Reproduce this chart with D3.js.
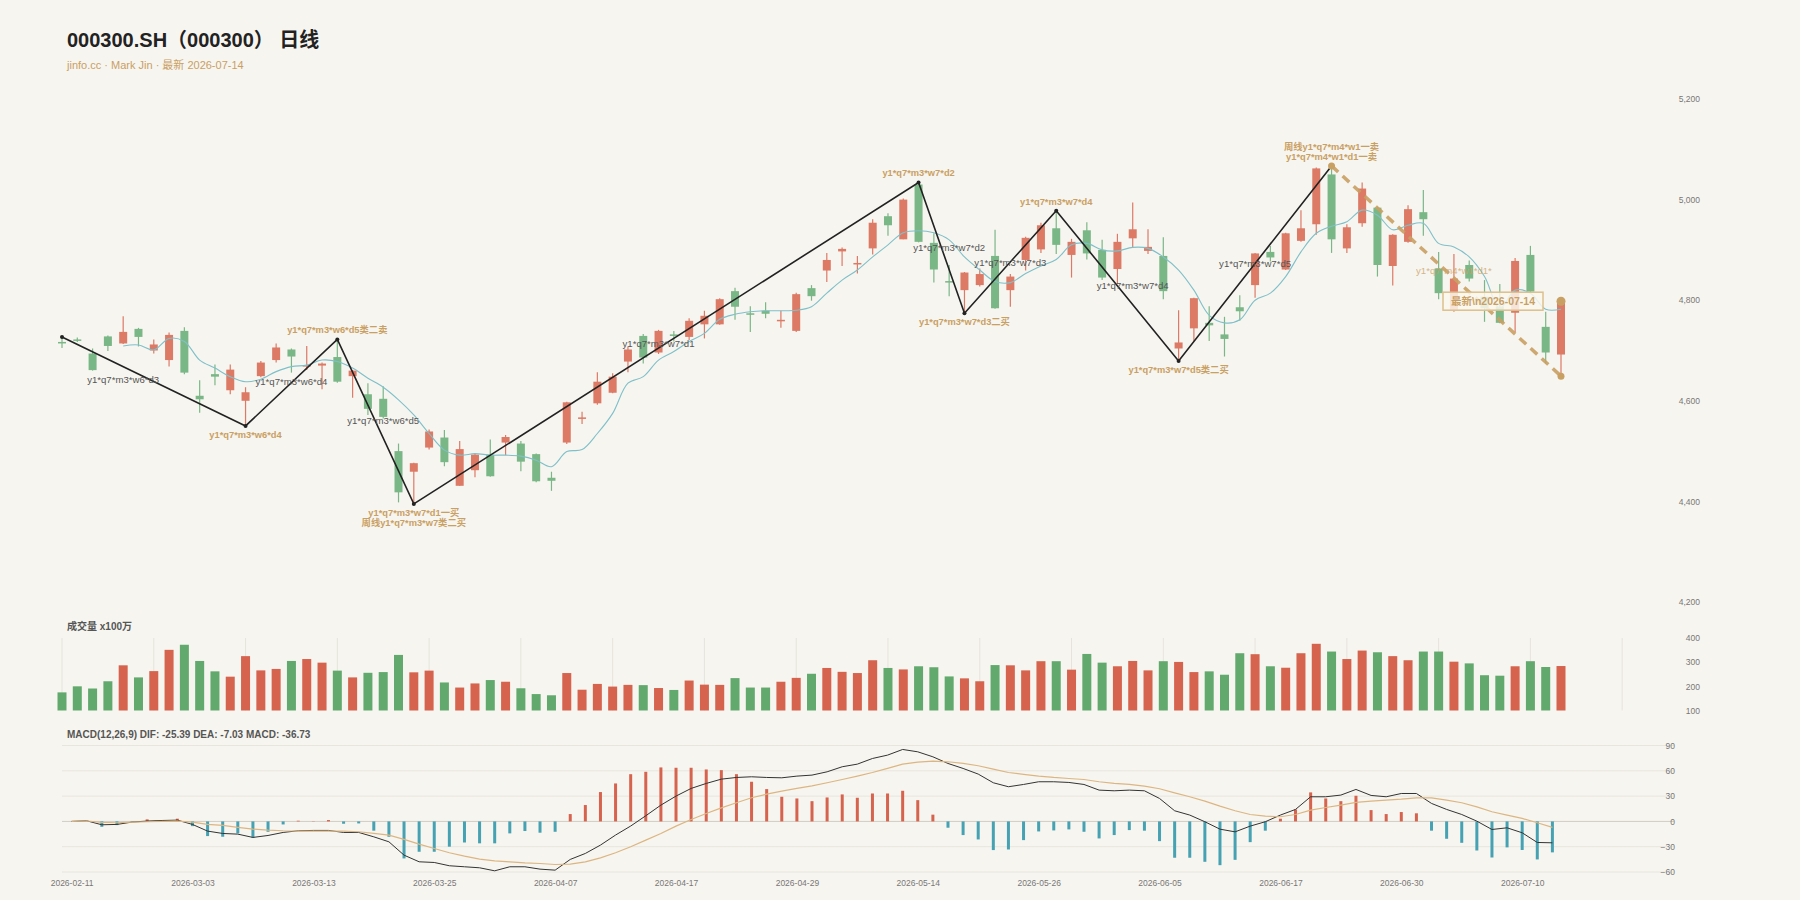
<!DOCTYPE html>
<html>
<head>
  <meta charset="utf-8">
  <title>000300.SH 日线</title>
  <script src="https://d3js.org/d3.v7.min.js"></script>
  <style>
    html, body { margin: 0; padding: 0; background: #f7f5f0; }
    svg { display: block; font-family: "Liberation Sans", Arial, "Noto Sans CJK SC", sans-serif; }
  </style>
</head>
<body>
  <svg id="chart" width="1800" height="900"></svg>

  <script>
    // trading days (2026)
    var days = ["02-11","02-12","02-13","02-24","02-25","02-26","02-27","03-02","03-03","03-04",
      "03-05","03-06","03-09","03-10","03-11","03-12","03-13","03-16","03-17","03-18",
      "03-19","03-20","03-23","03-24","03-25","03-26","03-27","03-30","03-31","04-01",
      "04-02","04-03","04-07","04-08","04-09","04-10","04-13","04-14","04-15","04-16",
      "04-17","04-20","04-21","04-22","04-23","04-24","04-27","04-28","04-29","04-30",
      "05-06","05-07","05-08","05-11","05-12","05-13","05-14","05-15","05-18","05-19",
      "05-20","05-21","05-22","05-25","05-26","05-27","05-28","05-29","06-01","06-02",
      "06-03","06-04","06-05","06-08","06-09","06-10","06-11","06-12","06-15","06-16",
      "06-17","06-18","06-22","06-23","06-24","06-25","06-26","06-29","06-30","07-01",
      "07-02","07-03","07-06","07-07","07-08","07-09","07-10","07-13","07-14"];
    var dates = days.map(function(d) { return "2026-" + d; });

    var open = [4717,4722,4694,4728,4714,4743,4700,4681,4739,4610,
      4653,4621,4600,4649,4681,4702,4668,4670,4687,4649,
      4613,4604,4500,4459,4507,4527,4431,4462,4493,4517,
      4515,4494,4447,4517,4564,4595,4616,4678,4729,4696,
      4732,4727,4752,4752,4818,4774,4779,4758,4739,4824,
      4859,4897,4872,4903,4967,4921,5030,4914,4838,4820,
      4830,4888,4820,4880,4901,4943,4890,4939,4900,4862,
      4923,4898,4888,4704,4744,4755,4732,4786,4830,4896,
      4861,4918,4951,5050,4903,4953,4984,4868,4916,4975,
      4863,4780,4870,4807,4787,4775,4890,4747,4692];
    var close = [4714,4720,4661,4709,4737,4727,4712,4731,4656,4603,
      4648,4662,4617,4676,4706,4688,4671,4674,4638,4660,
      4584,4568,4418,4476,4539,4478,4504,4493,4450,4528,
      4479,4440,4441,4597,4567,4638,4648,4702,4686,4739,
      4729,4759,4769,4802,4787,4771,4773,4761,4812,4808,
      4880,4902,4874,4954,4949,5000,4916,4861,4835,4855,
      4852,4784,4847,4924,4949,4910,4916,4893,4845,4916,
      4941,4906,4818,4716,4804,4750,4723,4778,4893,4885,
      4933,4943,5062,4921,4945,5022,4870,4930,4981,4961,
      4814,4843,4843,4784,4755,4878,4817,4696,4798];
    var high = [4727,4726,4704,4730,4768,4745,4722,4736,4746,4641,
      4672,4672,4627,4679,4714,4704,4709,4676,4722,4661,
      4635,4629,4515,4477,4543,4542,4520,4495,4523,4532,
      4520,4495,4459,4598,4578,4657,4655,4708,4733,4741,
      4739,4764,4779,4804,4825,4788,4796,4779,4815,4830,
      4894,4905,4888,4961,4973,5002,5034,4933,4870,4856,
      4863,4940,4852,4926,4954,4978,4922,4955,4920,4932,
      4994,4941,4925,4780,4805,4788,4767,4810,4894,4908,
      4934,4979,5064,5067,4951,5034,4985,4931,4989,5019,
      4896,4892,4879,4840,4832,4884,4908,4777,4798];
    var low = [4705,4717,4660,4699,4713,4708,4694,4668,4653,4576,
      4631,4613,4550,4647,4676,4656,4661,4623,4636,4606,
      4572,4565,4398,4395,4503,4470,4431,4448,4449,4492,
      4460,4438,4421,4514,4554,4592,4615,4657,4674,4693,
      4718,4721,4724,4751,4761,4737,4764,4745,4737,4799,
      4836,4868,4853,4891,4928,4921,4915,4835,4808,4774,
      4827,4783,4787,4859,4894,4892,4845,4881,4840,4833,
      4906,4892,4802,4679,4719,4719,4688,4759,4805,4877,
      4860,4916,4930,4894,4894,4946,4847,4829,4914,4928,
      4802,4777,4837,4757,4754,4737,4816,4674,4649];

    // moving average line (starts at 5th bar)
    var ma = [null,null,null,null,4709,4711,4701,4724,4718,4681,
      4665,4648,4638,4643,4658,4668,4671,4681,4678,4665,
      4645,4627,4602,4572,4535,4502,4492,4495,4492,4492,
      4490,4482,4469,4499,4503,4535,4575,4635,4648,4681,
      4698,4718,4734,4762,4772,4777,4779,4779,4780,4787,
      4814,4840,4860,4886,4910,4934,4938,4934,4920,4886,
      4860,4837,4835,4853,4868,4881,4910,4913,4900,4898,
      4905,4903,4886,4860,4820,4770,4755,4761,4800,4814,
      4847,4896,4933,4947,4956,4979,4969,4940,4949,4953,
      4913,4906,4886,4847,4784,4820,4814,4782,4782];

    // volume, x100万
    var volume = [175,200,191,221,287,237,263,351,372,305,
      262,240,325,266,272,305,313,298,265,237,
      256,259,330,258,265,216,195,212,226,219,
      192,168,163,255,186,210,199,206,205,193,
      185,224,207,206,234,195,195,219,235,252,
      276,260,255,308,276,270,283,279,241,233,
      221,288,287,266,304,304,269,334,298,283,
      305,266,304,301,259,262,248,337,333,283,
      277,337,376,344,313,348,341,325,308,344,
      344,302,295,246,244,283,304,280,284];

    // MACD(12,26,9)
    var dif = [0,0.7,-4,-3.6,-0.8,0.4,1.1,1.5,-3.6,-11.5,
      -14.3,-15.1,-19,-16.7,-13.1,-11.1,-10.7,-10.7,-13.1,-13.1,
      -18.3,-24.2,-40,-47.9,-48.7,-52.6,-53.8,-55,-58.6,-53.8,
      -53.8,-56.6,-57.8,-45.1,-38,-28.1,-16.2,-5.5,6.7,19.3,
      30,39.1,45,50.1,52.1,52.9,52.1,51.7,53.7,54.9,
      58.8,64.8,67.9,74.6,78.6,85.3,82.5,76.6,68.7,62.8,
      56.1,45.8,41.1,43.8,47,47,46.2,43.8,37.1,36.3,
      37.1,36.3,27.2,12.6,7.5,-0.4,-9.2,-12.4,-5.6,-0.4,
      7.5,14.2,29.2,29.2,31.2,37.9,30.8,29.2,33.1,33.1,
      21.3,14.2,8.2,0.3,-9.6,-7.6,-13.5,-25,-25.39];
    var dea = [0,0.5,-1.2,-1.6,-0.8,-0.4,0,0.4,-0.8,-3.6,
      -4.8,-7.1,-9.1,-10.3,-11.1,-11.5,-11.5,-11.5,-11.5,-12.3,
      -14.3,-16.3,-21.4,-27,-32.1,-37.2,-41.2,-44.7,-46.7,-47.9,
      -49.1,-49.9,-51.1,-50.7,-47.9,-43.2,-37.2,-30.1,-22.2,-14.3,
      -5.6,2.3,9.4,16.1,22.1,28,32.3,35.9,39.1,42.2,
      45.8,49.7,53.7,58,62.8,67.9,70.3,71.5,70.7,68.7,
      66,62,58,55.7,53.7,52.1,50.9,49.7,47,45,
      43.8,41.8,38.7,33.9,29.2,24.1,18.1,12.6,8.2,6.3,
      5.5,8.2,13.4,16.5,19.3,22.5,24.1,25.2,26.4,28,
      28,25.2,22.1,17.3,11.4,7.5,3.5,-1.6,-7.03];
    var hist = [0,0,-6.4,-4.4,-0.5,2.4,1.6,3.2,-5.6,-17.4,
      -18.2,-14.2,-19.4,-12.3,-3.6,0.8,0.3,1.6,-2.8,-2.4,
      -11,-18.2,-43.9,-36,-36,-30,-25,-26,-26,-14.2,
      -11.4,-13.4,-12.3,8.7,19.4,34.8,45,56,58.8,64,
      63.6,63.6,61.6,60.8,56,47,38.3,29.2,27.2,24,
      28.4,32,28,33.1,33.1,36.3,25.2,8,-7.5,-16.2,
      -21.4,-34,-33.3,-22.2,-11.9,-10.7,-9.5,-12.3,-20.2,-16.2,
      -10.3,-11,-23.4,-43.1,-43.1,-47.9,-51.9,-45.6,-24.6,-11,
      3.2,14.2,34.4,27.2,24,30.4,13.4,8.7,11.1,9.6,
      -11,-20.6,-25.4,-34.5,-42.8,-30.8,-33.9,-45.1,-36.73];

    // zigzag strokes (bar index, price)
    var zigIdx = [0, 12, 18, 23, 56, 59, 65, 73, 83];
    var zigVal = [4727, 4550, 4722, 4395, 5034, 4774, 4978, 4679, 5067];
    var pendIdx = [83, 98];
    var pendVal = [5067, 4649];

    // signal labels on zigzag vertices
    var sigIdx = [12, 18, 23, 56, 59, 65, 73, 83];
    var sigVal = [4550, 4722, 4395, 5034, 4774, 4978, 4679, 5067];
    var sigSide = ["below", "above", "below", "above", "below", "above", "below", "above"];
    var sigText = [
      ["y1*q7*m3*w6*d4"],
      ["y1*q7*m3*w6*d5类二卖"],
      ["y1*q7*m3*w7*d1一买", "周线y1*q7*m3*w7类二买"],
      ["y1*q7*m3*w7*d2"],
      ["y1*q7*m3*w7*d3二买"],
      ["y1*q7*m3*w7*d4"],
      ["y1*q7*m3*w7*d5类二买"],
      ["周线y1*q7*m4*w1一卖", "y1*q7*m4*w1*d1一卖"]
    ];

    // secondary (grey) labels
    var subIdx = [4, 15, 21, 39, 58, 62, 70, 78];
    var subVal = [4643, 4638, 4560, 4714, 4905, 4875, 4829, 4873];
    var subText = ["y1*q7*m3*w6*d3", "y1*q7*m3*w6*d4", "y1*q7*m3*w6*d5", "y1*q7*m3*w7*d1",
      "y1*q7*m3*w7*d2", "y1*q7*m3*w7*d3", "y1*q7*m3*w7*d4", "y1*q7*m3*w7*d5"];

    var pendLabel = { idx: 91, val: 4860, text: "y1*q7*m4*w1*d1*" };
    var lastLabel = "最新\\n2026-07-14";

    var priceTicks = [4200, 4400, 4600, 4800, 5000, 5200];
    var volTicks = [100, 200, 300, 400];
    var macdTicks = [-60, -30, 0, 30, 60, 90];

    var UP = "#dc7a66", DOWN = "#7ab786";
    var VUP = "#d6634e", VDOWN = "#62a96e";
    var GOLD = "#c9a063";

    var n = dates.length;
    var svg = d3.select("#chart");

    // scales
    var x = d3.scaleLinear().domain([0, n - 1]).range([62, 1561]);
    var xm = d3.scaleLinear().domain([0, n - 1]).range([71.6, 1552.4]);
    var y = d3.scaleLinear().domain([4200, 5200]).range([602, 99]);
    var yv = d3.scaleLinear().domain([100, 400]).range([710.5, 638]);
    var ym = d3.scaleLinear().domain([-60, 90]).range([872, 745.5]);

    // title
    svg.append("text").attr("x", 67).attr("y", 47)
      .attr("font-size", 20).attr("font-weight", "bold").attr("fill", "#222")
      .text("000300.SH（000300） 日线");
    svg.append("text").attr("x", 67).attr("y", 69)
      .attr("font-size", 11).attr("fill", GOLD)
      .text("jinfo.cc · Mark Jin · 最新 2026-07-14");

    // price axis
    var pAxis = svg.append("g").attr("transform", "translate(1700,0)")
      .call(d3.axisLeft(y).tickValues(priceTicks).tickFormat(d3.format(",")).tickSize(0).tickPadding(0));
    pAxis.select(".domain").remove();

    // candles
    var idx = d3.range(n);
    var candle = svg.append("g").selectAll("g").data(idx).enter().append("g");
    candle.append("line")
      .attr("x1", function(i) { return x(i); })
      .attr("x2", function(i) { return x(i); })
      .attr("y1", function(i) { return y(high[i]); })
      .attr("y2", function(i) { return y(low[i]); })
      .attr("stroke", function(i) { return close[i] >= open[i] ? UP : DOWN; })
      .attr("stroke-width", 1.2);
    candle.append("rect")
      .attr("x", function(i) { return x(i) - 4; })
      .attr("width", 8)
      .attr("y", function(i) { return y(Math.max(open[i], close[i])); })
      .attr("height", function(i) { return Math.max(1.5, Math.abs(y(open[i]) - y(close[i]))); })
      .attr("fill", function(i) { return close[i] >= open[i] ? UP : DOWN; });

    // moving average
    svg.append("path")
      .datum(idx.filter(function(i) { return ma[i] != null; }))
      .attr("d", d3.line().curve(d3.curveCatmullRom)
        .x(function(i) { return x(i); })
        .y(function(i) { return y(ma[i]); }))
      .attr("fill", "none").attr("stroke", "#7ec0c9").attr("stroke-width", 1.1);

    // zigzag
    svg.append("path")
      .datum(zigIdx.map(function(d, k) { return [d, zigVal[k]]; }))
      .attr("d", d3.line().x(function(d) { return x(d[0]); }).y(function(d) { return y(d[1]); }))
      .attr("fill", "none").attr("stroke", "#222").attr("stroke-width", 1.6);
    svg.append("g").selectAll("circle").data(zigIdx).enter().append("circle")
      .attr("cx", function(d) { return x(d); })
      .attr("cy", function(d, k) { return y(zigVal[k]); })
      .attr("r", 2).attr("fill", "#222");

    // pending stroke
    svg.append("path")
      .datum(pendIdx.map(function(d, k) { return [d, pendVal[k]]; }))
      .attr("d", d3.line().x(function(d) { return x(d[0]); }).y(function(d) { return y(d[1]); }))
      .attr("fill", "none").attr("stroke", GOLD).attr("stroke-width", 3.5)
      .attr("stroke-dasharray", "9,6").attr("opacity", 0.9);
    svg.append("circle").attr("cx", x(83)).attr("cy", y(5067)).attr("r", 3.5).attr("fill", GOLD);
    svg.append("circle").attr("cx", x(n - 1)).attr("cy", y(pendVal[1])).attr("r", 3.5).attr("fill", GOLD);
    svg.append("circle").attr("cx", x(n - 1)).attr("cy", y(close[n - 1])).attr("r", 4.5).attr("fill", GOLD);

    // grey labels
    svg.append("g").selectAll("text").data(subIdx).enter().append("text")
      .attr("x", function(d) { return x(d); })
      .attr("y", function(d, k) { return y(subVal[k]) + 3.5; })
      .attr("text-anchor", "middle").attr("font-size", 9.6).attr("fill", "#555")
      .text(function(d, k) { return subText[k]; });

    // signal labels
    sigIdx.forEach(function(d, k) {
      var lines = sigText[k];
      var py = y(sigVal[k]);
      lines.forEach(function(t, j) {
        var ty = sigSide[k] == "below" ? py + 12 + j * 9.7 : py - 6 - (lines.length - 1 - j) * 9.7;
        svg.append("text")
          .attr("x", x(d)).attr("y", ty)
          .attr("text-anchor", "middle").attr("font-size", 9.3).attr("font-weight", "bold")
          .attr("fill", GOLD).text(t);
      });
    });

    svg.append("text").attr("x", x(pendLabel.idx)).attr("y", y(pendLabel.val) + 3.5)
      .attr("text-anchor", "middle").attr("font-size", 9.6).attr("fill", GOLD).attr("opacity", 0.75)
      .text(pendLabel.text);

    // latest box
    var lb = svg.append("g").attr("transform", "translate(" + (x(n - 1) - 68) + "," + y(close[n - 1]) + ")");
    lb.append("rect").attr("x", -50).attr("y", -9).attr("width", 100).attr("height", 18)
      .attr("fill", "#faf7ef").attr("fill-opacity", 0.85).attr("stroke", "#dcc08c").attr("stroke-width", 1.5);
    lb.append("text").attr("y", 4).attr("text-anchor", "middle")
      .attr("font-size", 10.5).attr("font-weight", "bold").attr("fill", GOLD).text(lastLabel);

    // volume panel
    svg.append("text").attr("x", 67).attr("y", 630)
      .attr("font-size", 10).attr("font-weight", "bold").attr("fill", "#555").text("成交量 x100万");
    svg.append("g").selectAll("line").data(d3.range(0, n + 4, 6)).enter().append("line")
      .attr("x1", function(d) { return x(d); }).attr("x2", function(d) { return x(d); })
      .attr("y1", yv(400)).attr("y2", yv(100))
      .attr("stroke", "#e6e3dc").attr("stroke-width", 1);
    svg.append("g").selectAll("rect").data(idx).enter().append("rect")
      .attr("x", function(i) { return x(i) - 4.5; })
      .attr("width", 9)
      .attr("y", function(i) { return yv(volume[i]); })
      .attr("height", function(i) { return yv(100) - yv(volume[i]); })
      .attr("fill", function(i) { return close[i] >= open[i] ? VUP : VDOWN; });
    var vAxis = svg.append("g").attr("transform", "translate(1700,0)")
      .call(d3.axisLeft(yv).tickValues(volTicks).tickSize(0).tickPadding(0));
    vAxis.select(".domain").remove();

    // MACD panel
    svg.append("text").attr("x", 67).attr("y", 738)
      .attr("font-size", 10).attr("font-weight", "bold").attr("fill", "#555")
      .text("MACD(12,26,9) DIF: -25.39 DEA: -7.03 MACD: -36.73");
    svg.append("g").selectAll("line").data(macdTicks).enter().append("line")
      .attr("x1", 62).attr("x2", 1674)
      .attr("y1", function(d) { return ym(d); }).attr("y2", function(d) { return ym(d); })
      .attr("stroke", function(d) { return d == 0 ? "#cfcbc2" : "#e8e5de"; })
      .attr("stroke-width", 1);
    svg.append("g").selectAll("rect").data(idx).enter().append("rect")
      .attr("x", function(i) { return xm(i) - 1.5; })
      .attr("width", 3)
      .attr("y", function(i) { return Math.min(ym(0), ym(hist[i])); })
      .attr("height", function(i) { return Math.abs(ym(hist[i]) - ym(0)); })
      .attr("fill", function(i) { return hist[i] >= 0 ? VUP : "#46a2b3"; });
    svg.append("path").datum(idx)
      .attr("d", d3.line().x(function(i) { return xm(i); }).y(function(i) { return ym(dif[i]); }))
      .attr("fill", "none").attr("stroke", "#333").attr("stroke-width", 1);
    svg.append("path").datum(idx)
      .attr("d", d3.line().x(function(i) { return xm(i); }).y(function(i) { return ym(dea[i]); }))
      .attr("fill", "none").attr("stroke", "#dcb682").attr("stroke-width", 1.2);
    var mAxis = svg.append("g").attr("transform", "translate(1675,0)")
      .call(d3.axisLeft(ym).tickValues(macdTicks).tickSize(0).tickPadding(0));
    mAxis.select(".domain").remove();

    // date axis
    var xAxis = svg.append("g").attr("transform", "translate(0,880)")
      .call(d3.axisBottom(xm).tickValues(d3.range(0, n, 8)).tickFormat(function(i) { return dates[i]; }).tickSize(0).tickPadding(0));
    xAxis.select(".domain").remove();

    svg.selectAll(".tick text")
      .attr("font-family", "\"Liberation Sans\", Arial, sans-serif")
      .attr("font-size", 8.5).attr("fill", "#777");
  </script>
</body>
</html>
